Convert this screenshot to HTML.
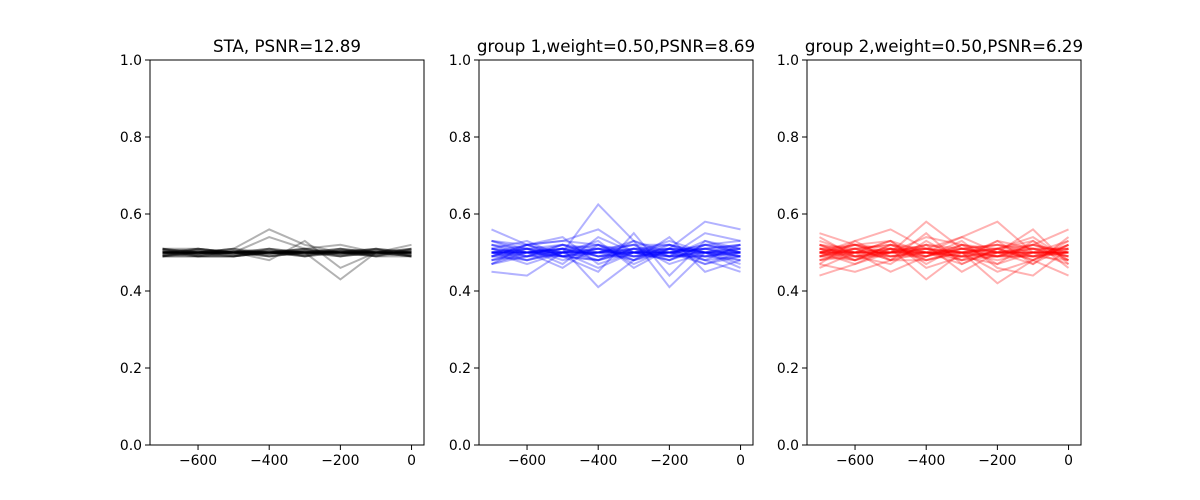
<!DOCTYPE html>
<html><head><meta charset="utf-8"><style>
body{margin:0;background:#fff;}
svg{display:block;font-family:"DejaVu Sans","Liberation Sans",sans-serif;}
</style></head><body>
<svg id="fig" width="1200" height="500" viewBox="0 0 1200 500"></svg>
<script>
const xValues=[-700,-600,-500,-400,-300,-200,-100,0];
const xTicks=[-600,-400,-200,0];
const yTicks=[0,0.2,0.4,0.6,0.8,1.0];
const titles=["STA, PSNR=12.89","group 1,weight=0.50,PSNR=8.69","group 2,weight=0.50,PSNR=6.29"];
const colors=["#000000","#0000ff","#ff0000"];
const staLines=[
[0.50,0.50,0.51,0.56,0.52,0.50,0.50,0.50],
[0.50,0.50,0.50,0.49,0.50,0.43,0.50,0.50],
[0.49,0.49,0.50,0.54,0.51,0.52,0.50,0.51],
[0.50,0.51,0.50,0.48,0.53,0.46,0.50,0.49],
[0.51,0.50,0.49,0.50,0.50,0.51,0.50,0.52],
[0.50,0.49,0.49,0.51,0.50,0.50,0.49,0.50],
[0.49,0.50,0.50,0.50,0.49,0.50,0.50,0.49],
[0.50,0.50,0.51,0.49,0.50,0.49,0.51,0.50],
[0.51,0.51,0.50,0.50,0.51,0.50,0.50,0.51],
[0.49,0.49,0.49,0.50,0.50,0.51,0.49,0.49],
[0.50,0.51,0.50,0.51,0.49,0.50,0.50,0.50],
[0.50,0.50,0.49,0.50,0.50,0.50,0.51,0.50],
[0.49,0.50,0.51,0.50,0.51,0.49,0.50,0.49],
[0.51,0.50,0.50,0.49,0.50,0.50,0.49,0.51],
[0.50,0.49,0.50,0.50,0.49,0.51,0.50,0.50],
[0.50,0.50,0.50,0.51,0.50,0.50,0.50,0.50],
[0.49,0.51,0.50,0.50,0.50,0.49,0.50,0.50],
[0.51,0.49,0.49,0.50,0.51,0.50,0.51,0.49],
[0.495,0.50,0.505,0.50,0.495,0.505,0.50,0.495],
[0.505,0.495,0.50,0.505,0.50,0.495,0.505,0.505],
[0.50,0.505,0.495,0.495,0.505,0.50,0.495,0.50],
[0.497,0.503,0.50,0.498,0.502,0.50,0.497,0.503],
[0.503,0.497,0.502,0.50,0.498,0.503,0.502,0.497],
[0.50,0.50,0.497,0.503,0.50,0.497,0.50,0.50],
[0.492,0.498,0.503,0.50,0.505,0.495,0.492,0.508],
[0.508,0.502,0.495,0.50,0.492,0.505,0.508,0.492],
[0.50,0.496,0.50,0.504,0.50,0.50,0.504,0.496],
[0.494,0.506,0.50,0.496,0.504,0.50,0.496,0.504],
[0.506,0.494,0.504,0.50,0.496,0.504,0.50,0.50],
[0.50,0.50,0.50,0.50,0.50,0.50,0.50,0.50]
];
const group1Lines=[
[0.50,0.50,0.50,0.625,0.53,0.49,0.50,0.50],
[0.49,0.50,0.51,0.41,0.48,0.52,0.50,0.49],
[0.56,0.52,0.53,0.56,0.50,0.51,0.58,0.56],
[0.45,0.44,0.50,0.48,0.53,0.41,0.50,0.46],
[0.51,0.53,0.49,0.45,0.55,0.44,0.53,0.50],
[0.53,0.50,0.46,0.52,0.48,0.54,0.45,0.48],
[0.47,0.52,0.54,0.47,0.50,0.49,0.55,0.53],
[0.50,0.47,0.50,0.53,0.46,0.51,0.48,0.45],
[0.52,0.51,0.48,0.50,0.52,0.47,0.50,0.52],
[0.48,0.49,0.52,0.49,0.51,0.52,0.49,0.48],
[0.50,0.52,0.50,0.51,0.49,0.50,0.52,0.51],
[0.49,0.48,0.51,0.50,0.50,0.48,0.51,0.50],
[0.51,0.50,0.49,0.48,0.51,0.51,0.50,0.49],
[0.50,0.51,0.50,0.52,0.50,0.49,0.49,0.51],
[0.48,0.50,0.52,0.50,0.48,0.50,0.51,0.52],
[0.52,0.49,0.49,0.51,0.52,0.52,0.48,0.49],
[0.50,0.50,0.51,0.49,0.50,0.51,0.50,0.50],
[0.49,0.51,0.50,0.50,0.51,0.50,0.52,0.50],
[0.51,0.49,0.52,0.51,0.49,0.49,0.50,0.51],
[0.50,0.50,0.49,0.50,0.50,0.50,0.49,0.50],
[0.47,0.50,0.50,0.46,0.50,0.53,0.50,0.47],
[0.53,0.51,0.47,0.54,0.50,0.48,0.52,0.53],
[0.50,0.48,0.50,0.50,0.53,0.50,0.47,0.50],
[0.49,0.52,0.53,0.52,0.47,0.51,0.51,0.49],
[0.51,0.50,0.51,0.49,0.49,0.50,0.51,0.52],
[0.50,0.49,0.50,0.51,0.50,0.52,0.50,0.48],
[0.48,0.51,0.49,0.50,0.52,0.49,0.49,0.50],
[0.52,0.50,0.51,0.48,0.50,0.50,0.51,0.49],
[0.49,0.52,0.49,0.51,0.48,0.51,0.50,0.51],
[0.51,0.48,0.50,0.50,0.51,0.48,0.52,0.50],
[0.50,0.51,0.52,0.49,0.50,0.50,0.48,0.52],
[0.47,0.49,0.51,0.52,0.49,0.51,0.47,0.49],
[0.53,0.52,0.49,0.48,0.51,0.49,0.53,0.51],
[0.50,0.50,0.50,0.50,0.50,0.50,0.50,0.50]
];
const group2Lines=[
[0.55,0.52,0.50,0.58,0.51,0.49,0.52,0.56],
[0.44,0.47,0.51,0.43,0.50,0.42,0.48,0.44],
[0.50,0.53,0.56,0.51,0.54,0.58,0.50,0.53],
[0.47,0.45,0.48,0.52,0.45,0.50,0.56,0.47],
[0.53,0.50,0.45,0.49,0.53,0.46,0.44,0.51],
[0.49,0.52,0.53,0.46,0.49,0.53,0.51,0.49],
[0.51,0.48,0.50,0.54,0.52,0.50,0.47,0.52],
[0.48,0.51,0.52,0.50,0.47,0.51,0.53,0.48],
[0.52,0.49,0.49,0.51,0.50,0.48,0.50,0.50],
[0.50,0.50,0.51,0.48,0.51,0.52,0.49,0.51],
[0.49,0.51,0.48,0.50,0.49,0.50,0.52,0.49],
[0.51,0.50,0.50,0.52,0.50,0.49,0.50,0.50],
[0.50,0.49,0.51,0.49,0.52,0.51,0.48,0.52],
[0.50,0.52,0.49,0.50,0.48,0.50,0.51,0.48],
[0.48,0.50,0.50,0.51,0.50,0.49,0.49,0.50],
[0.52,0.51,0.52,0.49,0.51,0.52,0.51,0.51],
[0.50,0.50,0.50,0.50,0.49,0.50,0.50,0.49],
[0.49,0.48,0.51,0.51,0.50,0.51,0.52,0.50],
[0.51,0.52,0.49,0.50,0.51,0.49,0.49,0.52],
[0.46,0.50,0.53,0.47,0.52,0.47,0.53,0.46],
[0.54,0.49,0.47,0.53,0.48,0.53,0.47,0.54],
[0.50,0.47,0.50,0.50,0.54,0.50,0.50,0.50],
[0.47,0.53,0.48,0.55,0.47,0.51,0.54,0.48],
[0.52,0.48,0.52,0.48,0.50,0.45,0.48,0.52],
[0.50,0.51,0.50,0.49,0.51,0.50,0.50,0.51],
[0.49,0.50,0.51,0.50,0.50,0.51,0.49,0.50],
[0.51,0.49,0.50,0.51,0.49,0.49,0.51,0.49],
[0.50,0.52,0.51,0.50,0.50,0.52,0.50,0.50],
[0.48,0.49,0.50,0.52,0.51,0.50,0.51,0.51],
[0.52,0.50,0.49,0.49,0.52,0.50,0.49,0.48],
[0.50,0.48,0.52,0.51,0.48,0.49,0.52,0.50],
[0.49,0.51,0.48,0.48,0.50,0.51,0.48,0.53],
[0.51,0.50,0.53,0.50,0.49,0.47,0.50,0.47],
[0.50,0.50,0.50,0.50,0.50,0.50,0.50,0.50]
];
const panelData=[staLines,group1Lines,group2Lines];
const panelLeft=[150,479,807];
const panelW=274, plotTop=60, plotBottom=445;
const NS="http://www.w3.org/2000/svg";
const svg=document.getElementById('fig');
function mk(tag,attrs,parent){const e=document.createElementNS(NS,tag);for(const k in attrs)e.setAttribute(k,attrs[k]);(parent||svg).appendChild(e);return e;}
for(let p=0;p<3;p++){
  const L=panelLeft[p];
  const xs=v=>L+(v+735)/770*panelW;
  const ys=v=>plotBottom-v*(plotBottom-plotTop);
  const g=mk('g',{});
  
  
  panelData[p].forEach((line,i)=>{
    const pts=line.map((v,j)=>xs(xValues[j]).toFixed(1)+','+ys(v).toFixed(1)).join(' ');
    const pl=mk('polyline',{points:pts,fill:'none',stroke:colors[p],'stroke-opacity':0.3,'stroke-width':2},g);
    
    
  });
  const fr=mk('rect',{x:L,y:plotTop,width:panelW,height:plotBottom-plotTop,fill:'none',stroke:'#000','stroke-width':1},g);
  
  
  yTicks.forEach(t=>{
    const y=ys(t);
    mk('line',{x1:L-5,x2:L,y1:y,y2:y,stroke:'#000'},g);
    const tx=mk('text',{x:L-8,y:y+5,'text-anchor':'end','font-size':13.9},g);
    tx.textContent=t.toFixed(1);
    
    
  });
  xTicks.forEach(t=>{
    const x=xs(t);
    mk('line',{x1:x,x2:x,y1:plotBottom,y2:plotBottom+5,stroke:'#000'},g);
    const tx=mk('text',{x:x,y:plotBottom+20,'text-anchor':'middle','font-size':13.9},g);
    tx.textContent=t<0?'\u2212'+(-t):String(t);
    
    
  });
  const ti=mk('text',{x:L+panelW/2,y:plotTop-8,'text-anchor':'middle','font-size':16.7},g);
  ti.textContent=titles[p];
  
  
}
</script>
</body></html>
